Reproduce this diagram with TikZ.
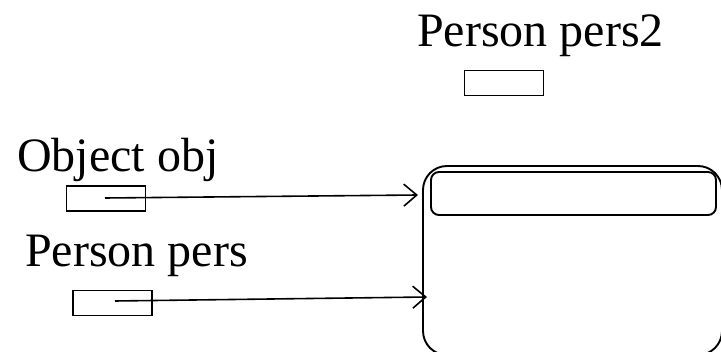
\documentclass[tikz,border=0pt]{standalone}
\usepackage{fontspec}
\setmainfont{Liberation Serif}
\usetikzlibrary{arrows.meta}
\tikzset{
  refbox/.style={draw, line width=1.6pt, minimum width=79pt, minimum height=25pt, inner sep=0pt},
  varlabel/.style={anchor=base west, inner sep=0pt, font=\fontsize{48}{56}\selectfont},
  refarrow/.style={line width=1.6pt, -{Straight Barb[length=13pt, width=22pt, line width=1.6pt]}}
}
\begin{document}
\begin{tikzpicture}[x=1pt, y=-1pt]
        \useasboundingbox (0,0) rectangle (721,352);
        \clip (0,0) rectangle (721,352);

        % Variable names
        \node[varlabel] (pers2Name) at (417,47) {Person pers2};
        \node[varlabel] (objName) at (17,172) {Object obj};
        \node[varlabel] (persName) at (25,267) {Person pers};

        % Reference boxes
        \node[refbox] (pers2Ref) at (504,83) {};
        \node[refbox] (objRef) at (106,198.5) {};
        \node[refbox] (persRef) at (112.5,303) {};

        % Object on the heap
        \draw[line width=1.9pt, rounded corners=24pt] (423,166) rectangle (722,355);
        \draw[line width=1.9pt, rounded corners=8pt] (431,172) rectangle (716,215);
        \coordinate (objEnd) at (418,195);
        \coordinate (persEnd) at (427,297);

        % References pointing to the object
        \coordinate (objStart) at (105,198);
        \coordinate (persStart) at (115,301);
        \draw[refarrow] (objStart) -- (objEnd);
        \draw[refarrow] (persStart) -- (persEnd);
\end{tikzpicture}
\end{document}
